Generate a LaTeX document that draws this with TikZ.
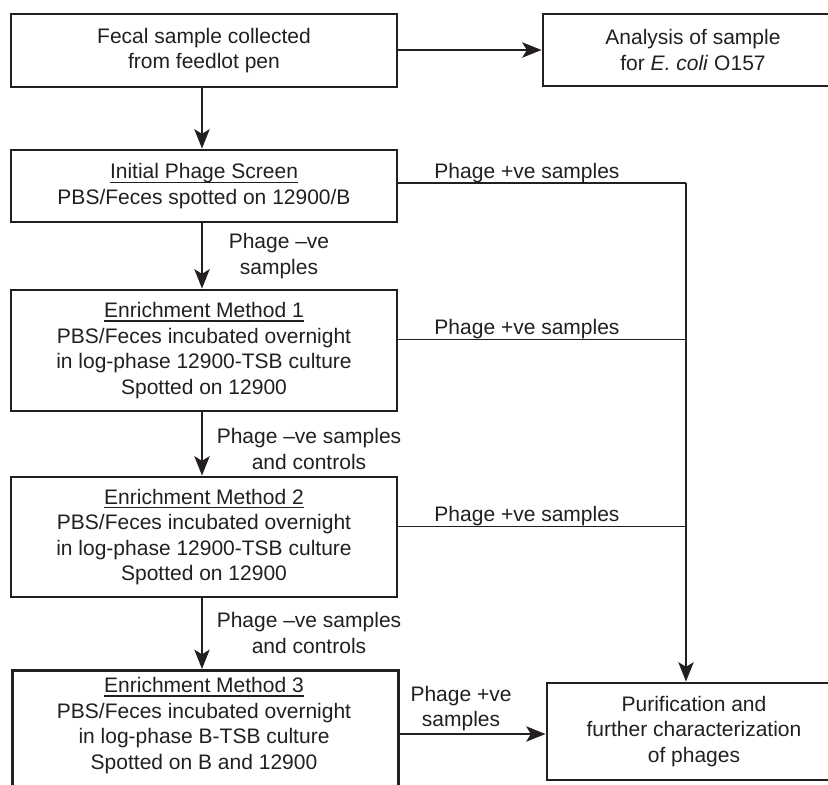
\documentclass[tikz,border=0pt]{standalone}
\usepackage{fontspec}
\setmainfont{Liberation Sans}
\usetikzlibrary{arrows.meta}
\definecolor{ink}{RGB}{35,31,32}
\newlength\ulinw
\newcommand{\ulin}[1]{\settowidth{\ulinw}{#1}\rlap{\rule[-3.3pt]{\ulinw}{1.1pt}}#1}
\begin{document}
\begin{tikzpicture}[x=0.75pt,y=-0.75pt,
  every node/.style={font=\fontsize{15.75pt}{19.2pt}\selectfont, text=ink},
  box/.style={draw=ink, line width=2.2pt, rectangle, align=center, inner sep=0pt},
  lbl/.style={align=center, inner sep=0pt},
  conn/.style={draw=ink, line width=1.4pt},
  arr/.style={conn, -{Stealth[length=14.5pt,width=11.5pt,inset=3.5pt]}}]
\useasboundingbox (0,0) rectangle (828,785);
\clip (0,0) rectangle (828,785);

% boxes
\node[box, minimum width=289.5pt, minimum height=54.75pt] (fecal) at (204,50.5)
  {Fecal sample collected\\from feedlot pen};
\node[box, minimum width=225pt, minimum height=54pt] (anal) at (693,50)
  {Analysis of sample\\for \textit{E. coli} O157};
\node[box, minimum width=289.5pt, minimum height=54pt] (init) at (204,186)
  {\ulin{Initial Phage Screen}\\PBS/Feces spotted on 12900/B};
\node[box, minimum width=289.5pt, minimum height=90.75pt] (em1) at (204,350.5)
  {\ulin{Enrichment Method 1}\\PBS/Feces incubated overnight\\in log-phase 12900-TSB culture\\Spotted on 12900};
\node[box, minimum width=289.5pt, minimum height=90pt] (em2) at (204,537)
  {\ulin{Enrichment Method 2}\\PBS/Feces incubated overnight\\in log-phase 12900-TSB culture\\Spotted on 12900};
\node[box, minimum width=289.5pt, minimum height=105pt, anchor=north west] (em3) at (11,669) {};
\node[lbl, anchor=north] (em3t) at (204,677)
  {\ulin{Enrichment Method 3}\\PBS/Feces incubated overnight\\in log-phase B-TSB culture\\Spotted on B and 12900};
\node[box, minimum width=220.5pt, minimum height=72.75pt] (purif) at (694,731.5)
  {Purification and\\further characterization\\of phages};

% junction coordinates
\coordinate (j1) at (686,183);
\coordinate (j2) at (686,339.5);
\coordinate (j3) at (686,526.5);
\coordinate (j4) at (540,734);

% main flow
\draw[arr] (fecal.east |- 0,50) -- (anal.west |- 0,50);
\draw[arr] (fecal.south -| 202,0) -- (init.north -| 202,0);
\draw[arr] (init.south -| 202,0) -- (em1.north -| 202,0);
\draw[arr] (em1.south -| 202,0) -- (em2.north -| 202,0);
\draw[arr] (em2.south -| 202,0) -- (em3.north -| 202,0);

% positive branches
\draw[conn] (init.east |- j1) -- (j1);
\draw[conn] (em1.east |- j2) -- (j2);
\draw[conn] (em2.east |- j3) -- (j3);
\draw[arr] (j1) -- (j1 |- purif.north);
\draw[arr] (em3.east |- j4) -- (purif.west |- j4);

% labels
\node[lbl, anchor=base] (p1) at (527,178) {Phage +ve samples};
\node[lbl, anchor=base] (p2) at (527,334.5) {Phage +ve samples};
\node[lbl, anchor=base] (p3) at (527,521.5) {Phage +ve samples};
\node[lbl] (p4) at (461,708.5) {Phage +ve\\samples};
\node[lbl] (n1) at (279,256) {Phage –ve\\samples};
\node[lbl] (n2) at (309,449) {Phage –ve samples\\and controls};
\node[lbl] (n3) at (309,633) {Phage –ve samples\\and controls};
\end{tikzpicture}
\end{document}
